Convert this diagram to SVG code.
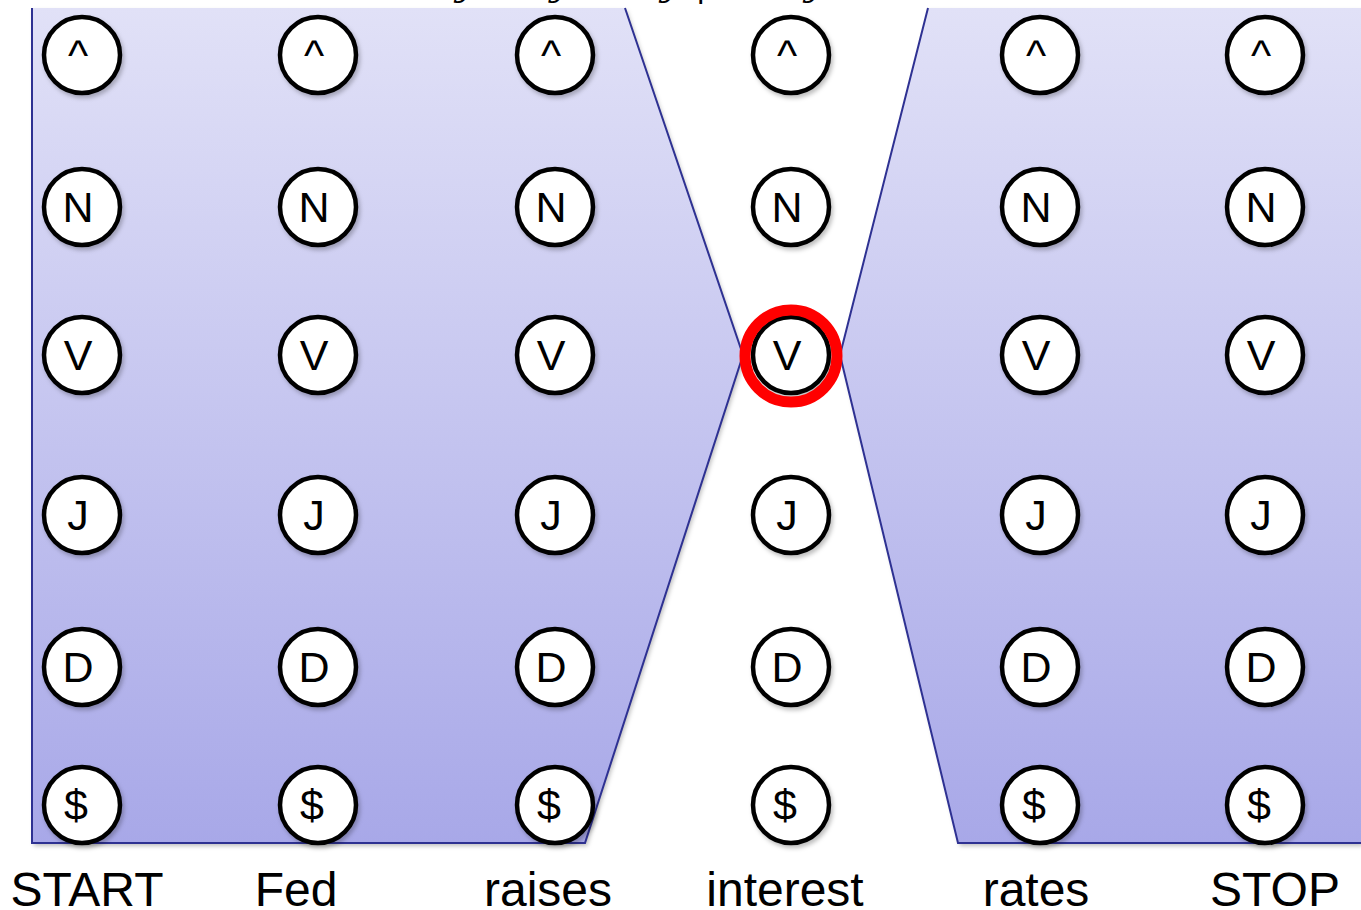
<svg xmlns="http://www.w3.org/2000/svg" width="1361" height="910" viewBox="0 0 1361 910">
<style>
.n circle{fill:#fff;stroke:#000;stroke-width:4.5}
.n text{font-family:"Liberation Sans",Arial,sans-serif;font-size:43px;text-anchor:middle;fill:#000}
.lbl{font-family:"Liberation Sans",Arial,sans-serif;font-size:48px;text-anchor:middle;fill:#000}
.edge{fill:none;stroke:#2e3192;stroke-width:2}
.math{font-family:"DejaVu Serif","Liberation Serif",serif;font-style:italic;font-size:34px;fill:#000}
</style>
<defs>
<linearGradient id="g" x1="0" y1="0" x2="0" y2="1">
<stop offset="0" stop-color="#e1e1f7"/>
<stop offset="1" stop-color="#a8a8e8"/>
</linearGradient>
<filter id="sh" x="-20%" y="-20%" width="140%" height="140%">
<feDropShadow dx="2" dy="3" stdDeviation="2" flood-color="#000" flood-opacity="0.25"/>
</filter>
</defs>
<rect width="1361" height="910" fill="#fff"/>
<text class="math" x="455" y="-4">y<tspan font-size="24">1</tspan><tspan dx="60">y</tspan><tspan font-size="24">t</tspan><tspan dx="40" font-style="normal">1</tspan><tspan dx="20">y</tspan><tspan font-size="24">t</tspan><tspan dx="6" font-style="normal">|</tspan><tspan dx="16" font-style="normal">1</tspan><tspan dx="60">y</tspan><tspan font-size="24">n</tspan></text>
<g id="regions">
<polygon points="32,8 625,8 743,355 585,843 32,843" fill="url(#g)" filter="url(#sh)"/>
<polygon points="928,8 1361,8 1361,843 958,843 840,355" fill="url(#g)" filter="url(#sh)"/>
<polyline class="edge" points="32,8 32,843 585,843 743,355 625,8"/>
<polyline class="edge" points="928,8 840,355 958,843 1361,843"/>
</g>
<g id="nodes">
<g id="c0" class="n">
<g filter="url(#sh)"><circle cx="82" cy="55" r="38"/><circle cx="82" cy="207" r="38"/><circle cx="82" cy="355" r="38"/><circle cx="82" cy="515" r="38"/><circle cx="82" cy="667" r="38"/><circle cx="82" cy="805" r="38"/></g>
<text x="78" y="70">^</text><text x="78" y="222">N</text><text x="78" y="370">V</text><text x="78" y="530">J</text><text x="78" y="682">D</text><text x="76" y="820">$</text>
</g>
<g id="c1" class="n">
<g filter="url(#sh)"><circle cx="318" cy="55" r="38"/><circle cx="318" cy="207" r="38"/><circle cx="318" cy="355" r="38"/><circle cx="318" cy="515" r="38"/><circle cx="318" cy="667" r="38"/><circle cx="318" cy="805" r="38"/></g>
<text x="314" y="70">^</text><text x="314" y="222">N</text><text x="314" y="370">V</text><text x="314" y="530">J</text><text x="314" y="682">D</text><text x="312" y="820">$</text>
</g>
<g id="c2" class="n">
<g filter="url(#sh)"><circle cx="555" cy="55" r="38"/><circle cx="555" cy="207" r="38"/><circle cx="555" cy="355" r="38"/><circle cx="555" cy="515" r="38"/><circle cx="555" cy="667" r="38"/><circle cx="555" cy="805" r="38"/></g>
<text x="551" y="70">^</text><text x="551" y="222">N</text><text x="551" y="370">V</text><text x="551" y="530">J</text><text x="551" y="682">D</text><text x="549" y="820">$</text>
</g>
<g id="c3" class="n">
<g filter="url(#sh)"><circle cx="791" cy="55" r="38"/><circle cx="791" cy="207" r="38"/><circle cx="791" cy="355" r="38"/><circle cx="791" cy="515" r="38"/><circle cx="791" cy="667" r="38"/><circle cx="791" cy="805" r="38"/></g>
<text x="787" y="70">^</text><text x="787" y="222">N</text><text x="787" y="370">V</text><text x="787" y="530">J</text><text x="787" y="682">D</text><text x="785" y="820">$</text>
<circle cx="791" cy="356" r="46" style="fill:none;stroke:#ff0000;stroke-width:11"/>
</g>
<g id="c4" class="n">
<g filter="url(#sh)"><circle cx="1040" cy="55" r="38"/><circle cx="1040" cy="207" r="38"/><circle cx="1040" cy="355" r="38"/><circle cx="1040" cy="515" r="38"/><circle cx="1040" cy="667" r="38"/><circle cx="1040" cy="805" r="38"/></g>
<text x="1036" y="70">^</text><text x="1036" y="222">N</text><text x="1036" y="370">V</text><text x="1036" y="530">J</text><text x="1036" y="682">D</text><text x="1034" y="820">$</text>
</g>
<g id="c5" class="n">
<g filter="url(#sh)"><circle cx="1265" cy="55" r="38"/><circle cx="1265" cy="207" r="38"/><circle cx="1265" cy="355" r="38"/><circle cx="1265" cy="515" r="38"/><circle cx="1265" cy="667" r="38"/><circle cx="1265" cy="805" r="38"/></g>
<text x="1261" y="70">^</text><text x="1261" y="222">N</text><text x="1261" y="370">V</text><text x="1261" y="530">J</text><text x="1261" y="682">D</text><text x="1259" y="820">$</text>
</g>
</g>
<g id="labels">
<text class="lbl" x="87" y="906">START</text>
<text class="lbl" x="296" y="906">Fed</text>
<text class="lbl" x="548" y="906">raises</text>
<text class="lbl" x="785" y="906">interest</text>
<text class="lbl" x="1036" y="906">rates</text>
<text class="lbl" x="1275" y="906">STOP</text>
</g>
</svg>
